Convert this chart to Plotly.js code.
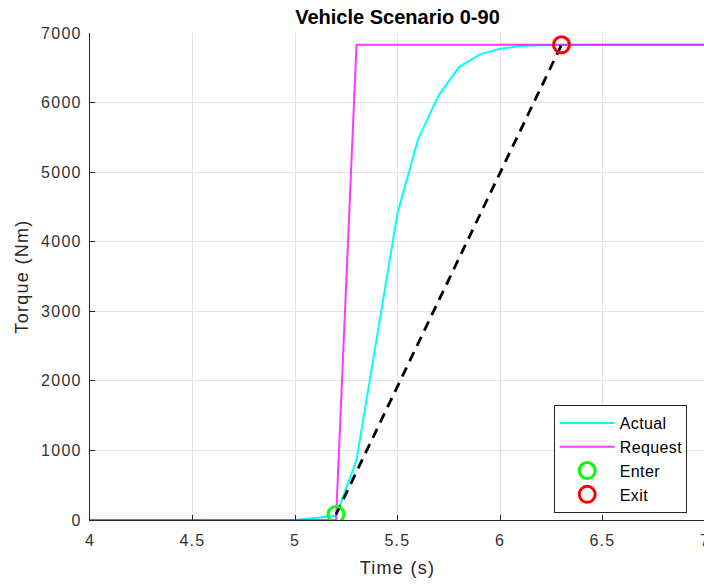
<!DOCTYPE html>
<html>
<head>
<meta charset="utf-8">
<script src="https://cdn.plot.ly/plotly-3.0.1.min.js"></script>
<style>
html,body{margin:0;padding:0;overflow:hidden;background:#fff;}
#chart{width:712px;height:585px;}
#chart .xtick text, #chart .ytick text {letter-spacing:1.3px;}
#chart .xtitle, #chart .ytitle {letter-spacing:1.3px;}
#chart .legendtext {letter-spacing:0.4px;}
</style>
</head>
<body>
<div id="chart"></div>
<script>
// Data
var actualTime   = [4.0, 5.0, 5.1, 5.2, 5.3, 5.4, 5.5, 5.6, 5.7, 5.8, 5.9, 6.0, 6.1, 6.2, 6.3, 6.5, 7.0];
var actualTorque = [0, 0, 30, 60, 860, 2630, 4410, 5470, 6100, 6510, 6690, 6775, 6812, 6825, 6830, 6830, 6830];
var requestTime   = [4.0, 5.2, 5.3, 7.0];
var requestTorque = [0, 0, 6830, 6830];
var enterTime = [5.2], enterTorque = [80];
var exitTime  = [6.3], exitTorque  = [6830];
var xTicks = [4, 4.5, 5, 5.5, 6, 6.5, 7];
var xTickLabels = ['4', '4.5', '5', '5.5', '6', '6.5', '7'];
var yTicks = [0, 1000, 2000, 3000, 4000, 5000, 6000, 7000];

var font = 'Liberation Sans, Arial, Helvetica, sans-serif';

var traces = [
  {x: actualTime, y: actualTorque, mode: 'lines', name: 'Actual',
   line: {color: '#00ffff', width: 2}},
  {x: requestTime, y: requestTorque, mode: 'lines', name: 'Request',
   line: {color: 'rgba(255,0,255,0.78)', width: 2}},
  {x: [enterTime[0], exitTime[0]], y: [enterTorque[0], exitTorque[0]],
   mode: 'lines', showlegend: false, hoverinfo: 'skip',
   line: {color: '#000000', width: 2.8, dash: '10px,7px'}},
  {x: enterTime, y: enterTorque, mode: 'markers', name: 'Enter',
   marker: {symbol: 'circle-open', size: 16, color: '#00ff00', line: {width: 3, color: '#00ff00'}}},
  {x: exitTime, y: exitTorque, mode: 'markers', name: 'Exit',
   marker: {symbol: 'circle-open', size: 16, color: '#ff0000', line: {width: 3, color: '#ff0000'}}}
];

var layout = {
  width: 712, height: 585,
  margin: {l: 90, r: 7, t: 33, b: 65},
  paper_bgcolor: '#ffffff', plot_bgcolor: '#ffffff',
  font: {family: font, color: '#262626', size: 16},
  title: {text: '<b>Vehicle Scenario 0-90</b>', font: {family: font, size: 20, color: '#000000'},
          x: 0.5, xref: 'paper', xanchor: 'center', y: 15, yref: 'container', yanchor: 'middle'},
  xaxis: {
    range: [4, 7], tickvals: xTicks, ticktext: xTickLabels,
    showgrid: true, gridcolor: '#e3e3e3', gridwidth: 1,
    zeroline: false, showline: true, linecolor: '#262626', linewidth: 1,
    ticks: 'inside', ticklen: 5, tickcolor: '#262626',
    tickfont: {size: 16, color: '#333333'}, ticklabelstandoff: 6,
    title: {text: 'Time (s)', font: {size: 18, color: '#262626'}, standoff: 13}
  },
  yaxis: {
    range: [0, 7000], tickvals: yTicks,
    showgrid: true, gridcolor: '#e3e3e3', gridwidth: 1,
    zeroline: false, showline: true, linecolor: '#262626', linewidth: 1,
    ticks: 'inside', ticklen: 5, tickcolor: '#262626',
    tickfont: {size: 16, color: '#333333'}, ticklabelstandoff: 4,
    title: {text: 'Torque (Nm)', font: {size: 18, color: '#262626'}, standoff: 12}
  },
  legend: {
    x: 0.754, y: 0.236, xanchor: 'left', yanchor: 'top',
    bgcolor: '#ffffff', bordercolor: '#262626', borderwidth: 1,
    font: {size: 16, color: '#000000'}, itemwidth: 55, tracegroupgap: 0
  },
  showlegend: true
};

Plotly.newPlot('chart', traces, layout, {displayModeBar: false, staticPlot: true});
</script>
</body>
</html>
